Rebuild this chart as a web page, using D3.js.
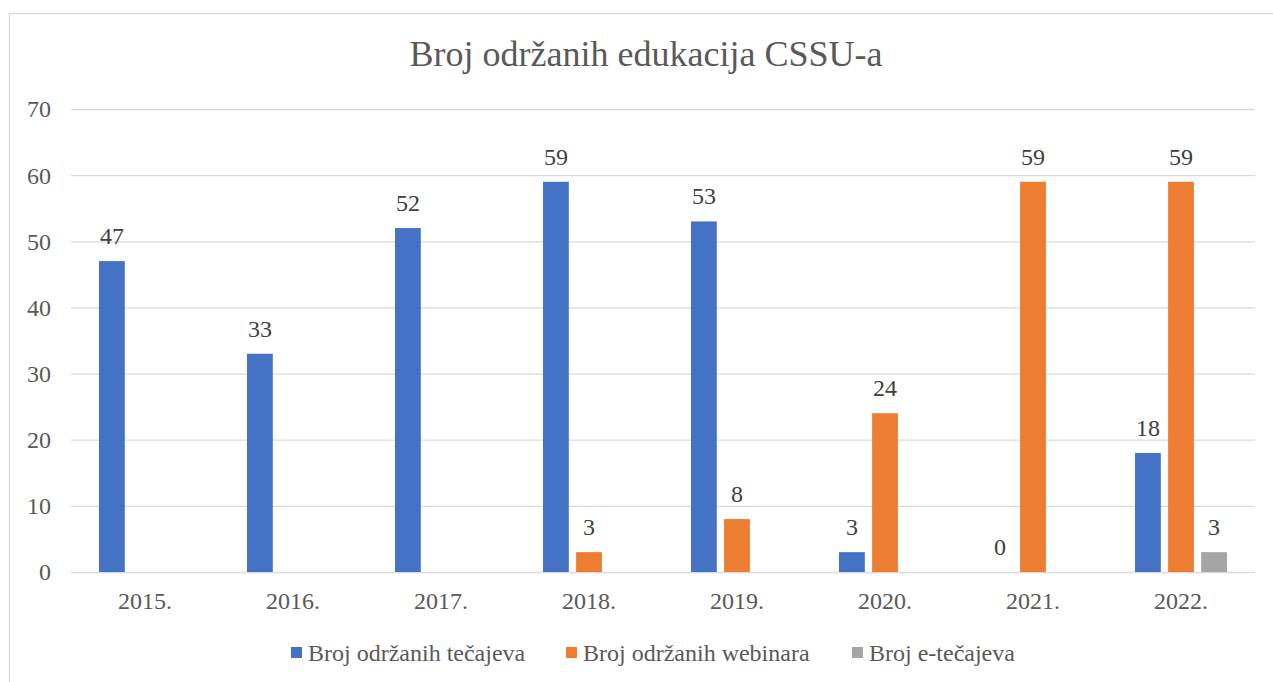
<!DOCTYPE html>
<html>
<head>
<meta charset="utf-8">
<script src="https://cdn.jsdelivr.net/npm/d3@7"></script>
<style>
  body { margin: 0; background: #fff; }
  svg text { font-family: "Liberation Serif", Tinos, "Times New Roman", "DejaVu Serif", serif !important; }
</style>
</head>
<body>
<div id="chart-area"></div>
<script>
// data
const years = ["2015.", "2016.", "2017.", "2018.", "2019.", "2020.", "2021.", "2022."]
const tecajevi = [47, 33, 52, 59, 53, 3, 0, 18]
const webinari = [null, null, null, 3, 8, 24, 59, 59]
const eTecajevi = [null, null, null, null, null, null, null, 3]
const seriesNames = ["Broj održanih tečajeva", "Broj održanih webinara", "Broj e-tečajeva"]
const seriesColors = ["#4472C4", "#ED7D31", "#A5A5A5"]
const yTicks = [0, 10, 20, 30, 40, 50, 60, 70]

const W = 1273, H = 682
const PLOT = { LEFT: 71, RIGHT: 1255, TOP: 109, BOTTOM: 572 }

const svg = d3.select("#chart-area").append("svg")
  .attr("width", W)
  .attr("height", H)

// chart border
svg.append("rect")
  .attr("x", 9.5).attr("y", 13.5)
  .attr("width", W + 20).attr("height", H + 20)
  .attr("fill", "none")
  .attr("stroke", "#d9d9d9")
  .attr("stroke-width", 1.3)

// title
svg.append("text")
  .attr("x", 646)
  .attr("y", 66)
  .attr("text-anchor", "middle")
  .attr("font-size", "36px")
  .attr("fill", "#595959")
  .text("Broj održanih edukacija CSSU-a")

const x0 = d3.scaleBand()
  .domain(years)
  .range([PLOT.LEFT, PLOT.RIGHT])
  .paddingInner(0.378)
  .paddingOuter(0.189)

const x1 = d3.scaleBand()
  .domain(d3.range(seriesNames.length))
  .range([0, x0.bandwidth()])
  .paddingInner(0.22)

const y = d3.scaleLinear()
  .domain([0, 70])
  .range([PLOT.BOTTOM, PLOT.TOP])

// gridlines + y labels
const yAxis = d3.axisLeft(y)
  .tickValues(yTicks)
  .tickSize(-(PLOT.RIGHT - PLOT.LEFT))
  .tickPadding(20)
svg.append("g")
  .attr("transform", `translate(${PLOT.LEFT}, 0)`)
  .call(yAxis)
  .attr("font-family", null)
  .call(g => g.select(".domain").remove())
  .call(g => g.selectAll("line").attr("stroke", "#d9d9d9").attr("stroke-width", 1.3))
  .call(g => g.selectAll("text")
    .attr("font-size", "24px")
    .attr("fill", "#595959")
    .attr("dy", "0.33em"))

// x labels
const xAxis = d3.axisBottom(x0).tickSize(0).tickPadding(20)
svg.append("g")
  .attr("transform", `translate(0, ${PLOT.BOTTOM})`)
  .call(xAxis)
  .attr("font-family", null)
  .call(g => g.select(".domain").remove())
  .call(g => g.selectAll("text")
    .attr("font-size", "24px")
    .attr("fill", "#595959"))

const allSeries = [tecajevi, webinari, eTecajevi]
const cells = []
years.forEach((yr, i) => {
  allSeries.forEach((s, k) => {
    if (s[i] !== null) cells.push({ year: yr, k: k, value: s[i] })
  })
})

svg.append("g").selectAll("rect")
  .data(cells)
  .enter().append("rect")
    .attr("x", d => x0(d.year) + x1(d.k))
    .attr("y", d => y(d.value))
    .attr("width", x1.bandwidth())
    .attr("height", d => PLOT.BOTTOM - y(d.value))
    .attr("fill", d => seriesColors[d.k])

// data labels
svg.append("g").selectAll("text")
  .data(cells)
  .enter().append("text")
    .attr("x", d => x0(d.year) + x1(d.k) + x1.bandwidth() / 2)
    .attr("y", d => y(d.value) - 17)
    .attr("text-anchor", "middle")
    .attr("font-size", "24px")
    .attr("fill", "#404040")
    .text(d => d.value)

// legend
const legendX = [291, 566, 852]
const legend = svg.append("g")
seriesNames.forEach((name, k) => {
  legend.append("rect")
    .attr("x", legendX[k]).attr("y", 647)
    .attr("width", 11).attr("height", 11)
    .attr("fill", seriesColors[k])
  legend.append("text")
    .attr("x", legendX[k] + 17).attr("y", 661)
    .attr("font-size", "24px")
    .attr("fill", "#595959")
    .text(name)
})
</script>
</body>
</html>
